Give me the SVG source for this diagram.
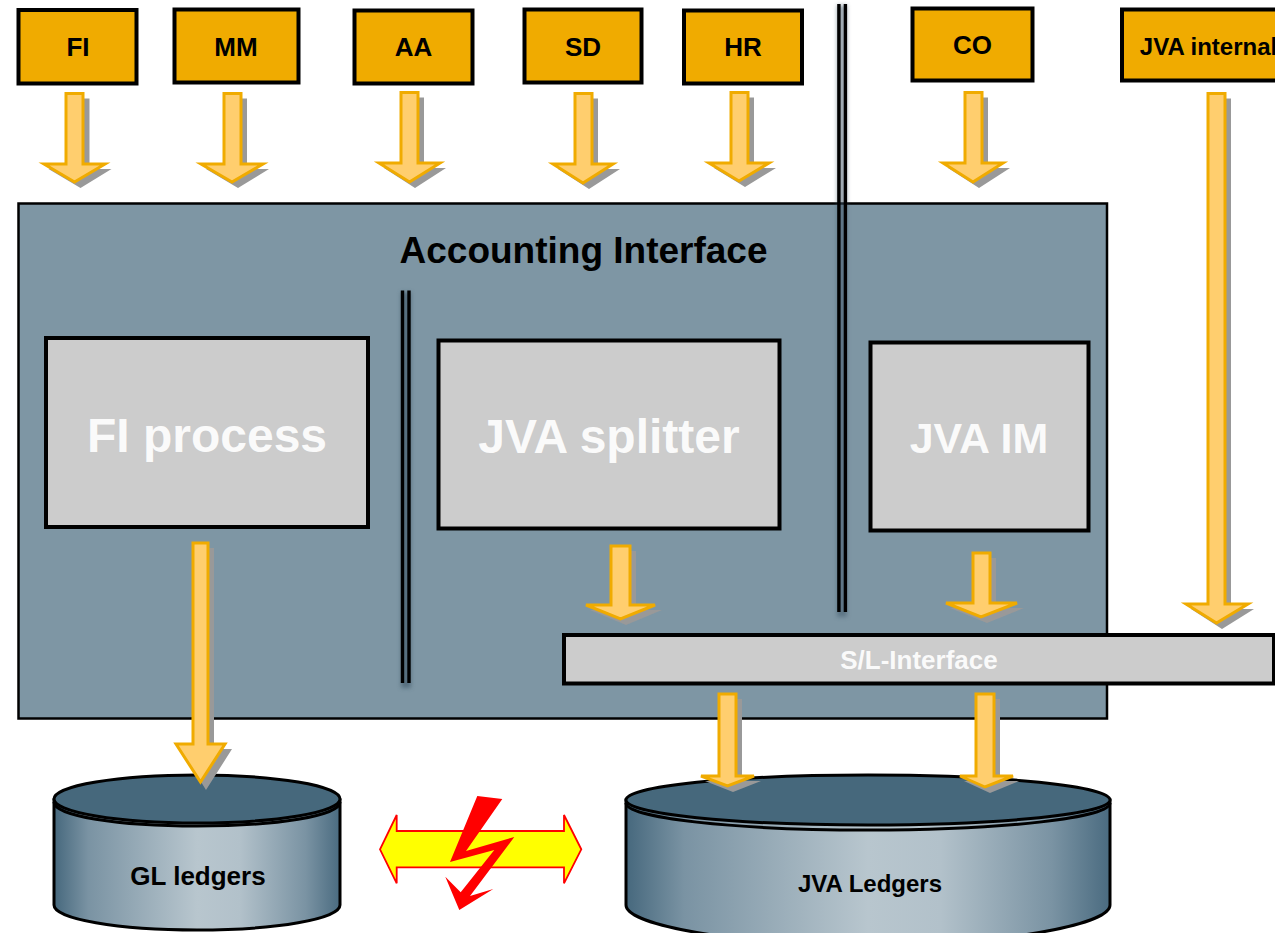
<svg xmlns="http://www.w3.org/2000/svg" width="1275" height="933" viewBox="0 0 1275 933">
<style>
text{font-family:"Liberation Sans",Arial,sans-serif;font-weight:bold;text-anchor:middle}
.src rect{fill:#F0AB00;stroke:#000;stroke-width:4}
.src text{font-size:26px;fill:#000}
.big{fill:#CCCCCC;stroke:#000;stroke-width:4}
.big+text{font-size:48px;fill:#fff;fill-opacity:.92}
.a{fill:#FFCE6E;stroke:#F0AB00;stroke-width:3}
.s{fill:#999999}
.div{fill:#000}
.cyl{stroke:#000;stroke-width:3}
.top{fill:#46687C;stroke:#000;stroke-width:3}
</style>
<defs>
<linearGradient id="g" x1="0" x2="1" y1="0" y2="0">
<stop offset="0" stop-color="#46687D"/><stop offset=".12" stop-color="#7A93A3"/><stop offset=".5" stop-color="#B8C6CE"/><stop offset=".65" stop-color="#B2C1CA"/><stop offset=".88" stop-color="#7A93A3"/><stop offset="1" stop-color="#4A6B80"/>
</linearGradient>
<filter id="b" x="-300%" y="-5%" width="700%" height="110%"><feGaussianBlur stdDeviation="2"/></filter>
</defs>
<rect width="1275" height="933" fill="#fff"/>
<g id="accounting-interface">
<rect x="18.500" y="203.500" width="1088.500" height="515" fill="#7E96A4" stroke="#000" stroke-width="2.500"/>
<text x="583.500" y="263" font-size="37px">Accounting Interface</text>
</g>
<g id="divider-left">
<rect x="401" y="292" width="10" height="396" fill="#3d5566" opacity=".6" filter="url(#b)"/>
<rect class="div" x="400.800" y="290.500" width="3.400" height="392.500"/><rect class="div" x="407.300" y="290.500" width="3.400" height="392.500"/>
</g>
<g id="divider-right">
<rect x="837" y="5" width="10" height="612" fill="#3d5566" opacity=".5" filter="url(#b)"/>
<rect class="div" x="837.200" y="4" width="3.400" height="608"/><rect class="div" x="843.700" y="4" width="3.400" height="608"/>
</g>
<g id="fi-process"><rect class="big" x="46" y="338" width="322" height="189"/><text x="207" y="452">FI process</text></g>
<g id="jva-splitter"><rect class="big" x="438.500" y="340.500" width="341" height="188"/><text x="609" y="453">JVA splitter</text></g>
<g id="jva-im"><rect class="big" x="870.500" y="342.500" width="218" height="188"/><text x="979" y="453" style="font-size:43px">JVA IM</text></g>
<g id="sl-interface"><rect x="564" y="635" width="710" height="48.500" fill="#CCCCCC" stroke="#000" stroke-width="4"/><text x="919" y="669" font-size="26px" fill="#fff" fill-opacity=".92">S/L-Interface</text></g>
<g id="fi" class="src"><rect x="18.500" y="10" width="118" height="73.500"/><text x="78" y="56">FI</text></g>
<g id="mm" class="src"><rect x="174.500" y="9.500" width="124" height="73"/><text x="236" y="56">MM</text></g>
<g id="aa" class="src"><rect x="354.500" y="10.500" width="118" height="73"/><text x="413.500" y="56">AA</text></g>
<g id="sd" class="src"><rect x="524.500" y="9.500" width="117" height="73"/><text x="583" y="56">SD</text></g>
<g id="hr" class="src"><rect x="684" y="10.500" width="118" height="73"/><text x="743" y="56">HR</text></g>
<g id="co" class="src"><rect x="912.500" y="8.500" width="120" height="72"/><text x="972.500" y="54">CO</text></g>
<g id="jva-internal" class="src"><rect x="1122" y="9.500" width="170" height="71"/><text x="1208.500" y="55" style="font-size:24px">JVA internal</text></g>
<g id="gl-ledgers">
<path class="cyl" fill="url(#g)" d="M54 800V905C54 919 118 930 197 930S340 919 340 905V800Z"/>
<path fill="none" stroke="#000" stroke-width="3" d="M54 802C54 816 118 826 197 826S340 816 340 802"/>
<ellipse class="top" cx="197" cy="799" rx="143" ry="24"/>
<text x="198" y="885" font-size="26px">GL ledgers</text>
</g>
<g id="jva-ledgers">
<path class="cyl" fill="url(#g)" d="M626 800V905C626 925 734 945 868 945S1110 925 1110 905V800Z"/>
<path fill="none" stroke="#000" stroke-width="3" d="M626 803C626 818 734 830 868 830S1110 818 1110 803"/>
<ellipse class="top" cx="868" cy="800" rx="242" ry="25"/>
<text x="870" y="892" font-size="24px">JVA Ledgers</text>
</g>
<g id="conflict">
<polygon fill="#FFFF00" stroke="#FF0000" stroke-width="1.800" points="380,849.300 396.700,815 396.700,831 564,831 564,815 581.300,849.300 564,883.300 564,867.300 396.700,867.300 396.700,883.300"/>
<polygon fill="#FF0000" points="477.300,796 502.300,799 466,851 514.300,837 470,896 493.300,889 459.300,910 445.300,876.700 460.700,892.300 494.300,850 450,862"/>
</g>
<g id="connectors">
<g id="a-fi"><polygon class="s" points="71.500,98.500 89.500,98.500 89.500,169 111.500,169 80.500,188 48.500,169 71.500,169"/><polygon class="a" points="66,93.500 83,93.500 83,164 105,164 74.500,182 44,164 66,164"/></g>
<g id="a-mm"><polygon class="s" points="229,98.500 247,98.500 247,169 269,169 238,188 206,169 229,169"/><polygon class="a" points="224,93.500 241,93.500 241,164 263,164 232,182 201,164 224,164"/></g>
<g id="a-aa"><polygon class="s" points="406,97.500 424,97.500 424,168 446,168 415,188 384,168 406,168"/><polygon class="a" points="401,92.500 418,92.500 418,163 440,163 409.500,182 379,163 401,163"/></g>
<g id="a-sd"><polygon class="s" points="580,98.500 598,98.500 598,169 620,169 589,189 558,169 580,169"/><polygon class="a" points="575,93.500 592,93.500 592,164 613,164 583,183 553,164 575,164"/></g>
<g id="a-hr"><polygon class="s" points="736,97.500 754,97.500 754,168 776,168 745,187 714,168 736,168"/><polygon class="a" points="731,92.500 748,92.500 748,163 769,163 739,181 709,163 731,163"/></g>
<g id="a-co"><polygon class="s" points="970,97.500 988,97.500 988,168 1010,168 979,188 948,168 970,168"/><polygon class="a" points="965,92.500 982,92.500 982,163 1003,163 973,182 943,163 965,163"/></g>
<g id="a-jva"><polygon class="s" points="1213,98.500 1231,98.500 1231,609 1254,609 1222,629 1191,609 1213,609"/><polygon class="a" points="1208,93.500 1225,93.500 1225,604 1248,604 1216.500,623 1186,604 1208,604"/></g>
<g id="a-fip"><polygon class="s" points="198,548 214,548 214,749 232,749 206,790 181,749 198,749"/><polygon class="a" points="193,543 208,543 208,744 225,744 200.500,782 176,744 193,744"/></g>
<g id="a-spl"><polygon class="s" points="616,551 636,551 636,610 662,610 626,625 590,610 616,610"/><polygon class="a" points="611,546 630,546 630,605 655,605 620.500,619 586,605 611,605"/></g>
<g id="a-im"><polygon class="s" points="978,558 996,558 996,608 1024,608 987,623 950,608 978,608"/><polygon class="a" points="973,553 990,553 990,603 1017,603 981,617 946,603 973,603"/></g>
<g id="a-sl1"><polygon class="s" points="724,699 742,699 742,781 761,781 733,792 705,781 724,781"/><polygon class="a" points="719,694 736,694 736,776 754,776 727.500,786 701,776 719,776"/></g>
<g id="a-sl2"><polygon class="s" points="981,699 1000,699 1000,781 1019,781 990,793 964,781 981,781"/><polygon class="a" points="976,694 994,694 994,776 1013,776 985,787 960,776 976,776"/></g>
</g>
</svg>
